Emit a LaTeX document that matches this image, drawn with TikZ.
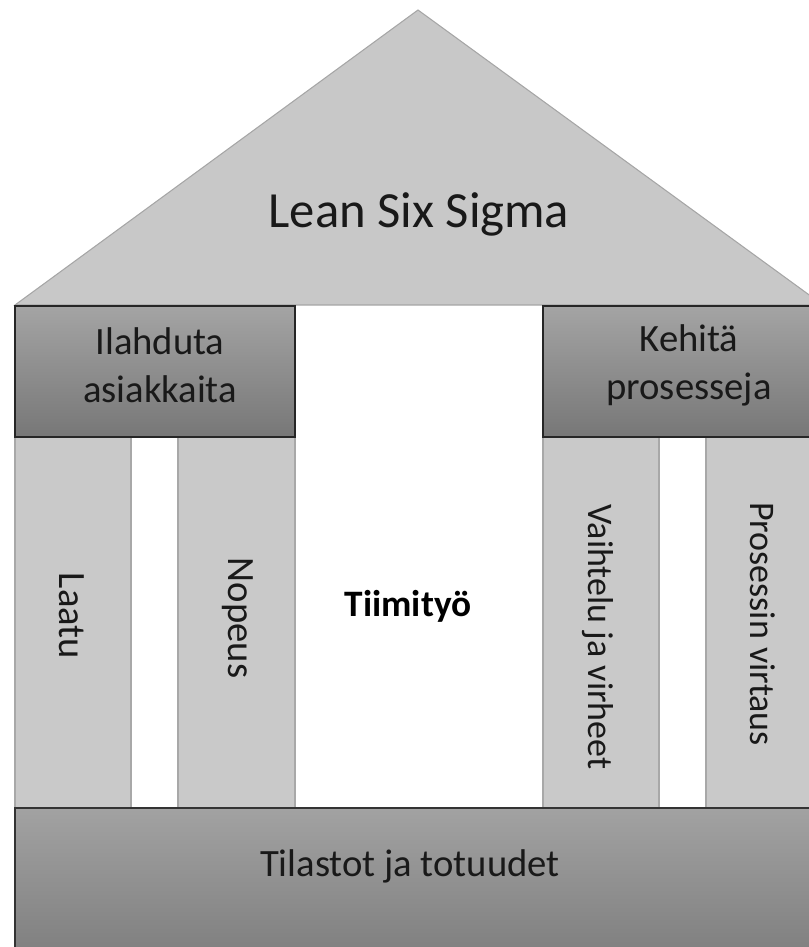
\documentclass[tikz,border=0pt]{standalone}
\usepackage{fontspec}
\setmainfont{Carlito}
\begin{document}
\begin{tikzpicture}[x=0.75pt,y=-0.75pt,
  roof/.style={fill=roofgray,draw=roofedge,line width=0.8pt},
  beam/.style={top color=beamtop,bottom color=beambot,draw=black!85,line width=1.1pt},
  base/.style={top color=basetop,bottom color=basebot,draw=black!80,line width=1.1pt},
  pillar/.style={fill=pillargray,draw=pillaredge,line width=0.8pt},
  lbl/.style={font=\fontsize{29}{36}\selectfont,text=black!90,align=center,inner sep=0pt},
  vlbl/.style={lbl,rotate=-90},
  vlong/.style={vlbl,font=\fontsize{27}{33}\selectfont}]
\definecolor{roofgray}{HTML}{C8C8C8}
\definecolor{roofedge}{HTML}{A6A6A6}
\definecolor{beamtop}{HTML}{A4A4A4}
\definecolor{beambot}{HTML}{777777}
\definecolor{basetop}{HTML}{A2A2A2}
\definecolor{basebot}{HTML}{7E7E7E}
\definecolor{pillargray}{HTML}{C9C9C9}
\definecolor{pillaredge}{HTML}{A8A8A8}
\useasboundingbox (0,0) rectangle (809,947);
\clip (0,0) rectangle (809,947);

% roof
\path[roof] (15,305) -- (418,10) -- (823,305) -- cycle;
\node[lbl,font=\fontsize{38}{44}\selectfont] (roofT) at (419,214) {Lean Six Sigma};

% pillars
\path[pillar] (15,437) rectangle (131,808);
\path[pillar] (178,437) rectangle (295,808);
\path[pillar] (543,437) rectangle (659,808);
\path[pillar] (706,437) rectangle (823,808);
\node[vlbl] (laatu) at (72,616) {Laatu};
\node[vlbl] (nopeus) at (238,618) {Nopeus};
\node[vlong] (vaiht) at (598,637) {Vaihtelu ja virheet};
\node[vlong] (virt) at (763,624) {Prosessin virtaus};

% team work in the middle
\node[font=\fontsize{28}{32}\selectfont\bfseries,inner sep=0pt] (tiimi) at (408,606) {Tiimityö};

% upper beams
\path[beam] (15,306) rectangle (295,437);
\path[beam] (543,306) rectangle (823,437);
\node[lbl] (ilah) at (160,365) {Ilahduta\\asiakkaita};
\node[lbl] (kehi) at (689,365) {Kehitä\\prosesseja};

% foundation
\path[base] (15,808) rectangle (823,960);
\node[lbl] (tila) at (410,866) {Tilastot ja totuudet};
\end{tikzpicture}
\end{document}
